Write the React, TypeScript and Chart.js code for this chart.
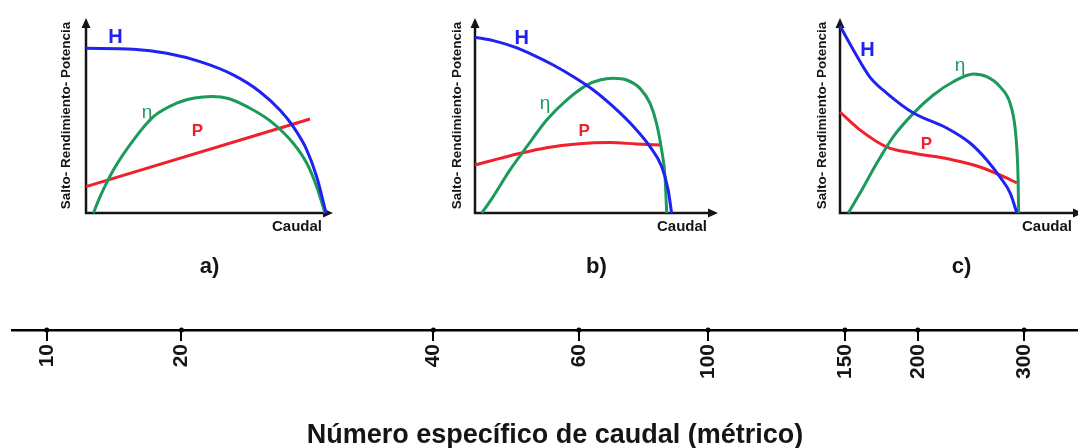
import React, { useEffect, useRef } from 'react';
import { Chart, registerables } from 'chart.js';

Chart.register(...registerables);

const FONT = "'Liberation Sans', Arial, Helvetica, sans-serif";
const BLUE = '#1f22f0';
const GREEN = '#1c9a5c';
const RED = '#f0202c';
const INK = '#151515';

// ---- characteristic curves (Caudal 0..100 along the axis, value 0..100 up the axis) ----

// a) slow runner
const aHx = [0, 19.2, 32.7, 46.2, 59.6, 70.4, 78.5, 83.9, 89.4, 93.4, 97.2];
const aHy = [84.5, 84, 81.9, 77.6, 70.8, 62.2, 52.8, 44.3, 32.3, 18.6, 0];
const aEx = [3.0, 5.7, 11.1, 19.2, 27.3, 36.7, 44.0, 51.0, 58.0, 67.7, 75.8, 83.9, 89.4, 93.4, 96.8];
const aEy = [0, 8.4, 22.1, 37.4, 49.4, 56.3, 59.0, 59.8, 58.6, 52.8, 46, 35.8, 25.5, 13.5, 0];
const aPx = [0, 90.7];
const aPy = [13.5, 48.2];

// b) medium runner
const bHx = [0, 7.5, 15.8, 24, 32.2, 40.5, 48.7, 56.9, 65.2, 72, 76.8, 79.5, 80.9];
const bHy = [90.1, 88.4, 85.3, 81, 75.9, 69.9, 63.1, 54.5, 44.3, 34, 23.8, 11.8, 0];
const bEx = [2.8, 7.5, 14.4, 21.3, 29.5, 37.7, 46, 51.4, 56.9, 62.4, 67.9, 72, 74.7, 76.8, 78.2, 78.9];
const bEy = [0, 8.4, 22.1, 34, 47.7, 57.9, 65.6, 68.2, 69.1, 68.2, 63.9, 56.3, 46, 32.3, 18.6, 0];
const bPx = [0, 10.3, 18.5, 29.5, 41.9, 55.6, 66.5, 76.8];
const bPy = [24.6, 28, 30.6, 33.5, 35.4, 36.1, 35.4, 34.9];

// c) fast runner
const cHx = [0, 5.5, 12.3, 19.2, 30.2, 43.9, 53.5, 60.4, 65.8, 70.0, 72.8];
const cHy = [95.9, 83.6, 69.7, 61.5, 51.3, 43.6, 35.9, 27.2, 18.5, 10.3, 0];
const cEx = [3.4, 8.2, 15.1, 21.9, 30.2, 38.4, 46.6, 54.9, 60.4, 65.8, 70, 72, 72.9, 73.3, 73.5];
const cEy = [0, 10.1, 25.5, 39.1, 51.1, 60.5, 67.3, 71.3, 69.9, 64.8, 56.3, 44.3, 30.6, 16.9, 0];
const cPx = [0, 8.2, 19.3, 30, 46.5, 57.6, 65.8, 72.8];
const cPy = [51.8, 42.6, 33.8, 30.8, 27.2, 23.6, 19.5, 15.4];

// ---- specific speed scale ----
const specificSpeedTicks = [10, 20, 40, 60, 100, 150, 200, 300];
// where each value sits along the scale, in percent of the axis length
const specificSpeedStops = [3.2, 15.6, 38.8, 52.2, 64.1, 76.7, 83.4, 93.2];

const toPoints = (xs: number[], ys: number[]) => xs.map((x, i) => ({ x, y: ys[i] }));

type CurveLabel = { text: string; color: string; x: number; y: number; font: string };

const panels = [
  {
    tag: 'a)', left: 0, width: 360, yAxisWidth: 86, padRight: 27, yTitleOffset: 58,
    H: [aHx, aHy], E: [aEx, aEy], P: [aPx, aPy],
    labels: [
      { text: 'H', color: BLUE, x: 11.9, y: 90, font: `bold 20px ${FONT}` },
      { text: 'η', color: GREEN, x: 24.7, y: 51.3, font: `19px ${FONT}` },
      { text: 'P', color: RED, x: 45.1, y: 41.8, font: `bold 17px ${FONT}` },
    ],
  },
  {
    tag: 'b)', left: 360, width: 360, yAxisWidth: 115, padRight: 2, yTitleOffset: 89,
    H: [bHx, bHy], E: [bEx, bEy], P: [bPx, bPy],
    labels: [
      { text: 'H', color: BLUE, x: 19.2, y: 89.5, font: `bold 20px ${FONT}` },
      { text: 'η', color: GREEN, x: 28.8, y: 55.9, font: `19px ${FONT}` },
      { text: 'P', color: RED, x: 44.9, y: 41.8, font: `bold 17px ${FONT}` },
    ],
  },
  {
    tag: 'c)', left: 720, width: 370, yAxisWidth: 120, padRight: 7, yTitleOffset: 94,
    H: [cHx, cHy], E: [cEx, cEy], P: [cPx, cPy],
    labels: [
      { text: 'H', color: BLUE, x: 11.3, y: 83.2, font: `bold 20px ${FONT}` },
      { text: 'η', color: GREEN, x: 49.4, y: 75.4, font: `19px ${FONT}` },
      { text: 'P', color: RED, x: 35.6, y: 35.1, font: `bold 17px ${FONT}` },
    ],
  },
];

// Axes with arrowheads, curve names and the "Caudal" axis name
const panelDecor = {
  id: 'panelDecor',
  beforeDatasetsDraw(chart: any) {
    const { ctx, chartArea } = chart;
    const { left, right, top, bottom } = chartArea;
    ctx.save();
    ctx.strokeStyle = INK;
    ctx.fillStyle = INK;
    ctx.lineWidth = 2.5;
    ctx.beginPath();
    ctx.moveTo(left, top + 6);
    ctx.lineTo(left, bottom);
    ctx.lineTo(right - 6, bottom);
    ctx.stroke();
    ctx.beginPath();
    ctx.moveTo(left, top);
    ctx.lineTo(left - 4.5, top + 10);
    ctx.lineTo(left + 4.5, top + 10);
    ctx.closePath();
    ctx.fill();
    ctx.beginPath();
    ctx.moveTo(right, bottom);
    ctx.lineTo(right - 10, bottom - 4.5);
    ctx.lineTo(right - 10, bottom + 4.5);
    ctx.closePath();
    ctx.fill();
    ctx.restore();
  },
  afterDatasetsDraw(chart: any, _args: any, opts: any) {
    const { ctx, chartArea, scales } = chart;
    ctx.save();
    ctx.textAlign = 'center';
    ctx.textBaseline = 'middle';
    (opts.labels || []).forEach((l: CurveLabel) => {
      ctx.font = l.font;
      ctx.fillStyle = l.color;
      ctx.fillText(l.text, scales.x.getPixelForValue(l.x), scales.y.getPixelForValue(l.y));
    });
    ctx.font = `bold 15px ${FONT}`;
    ctx.fillStyle = INK;
    ctx.textAlign = 'right';
    ctx.fillText(opts.axisName, chartArea.right - 11, chartArea.bottom + 14);
    ctx.restore();
  },
};

function CurvePanel({ panel }: { panel: any }) {
  const ref = useRef<HTMLCanvasElement>(null);
  useEffect(() => {
    if (!ref.current) return;
    const line = (label: string, xy: number[][], color: string) => ({
      label,
      data: toPoints(xy[0], xy[1]),
      borderColor: color,
      borderWidth: 3,
      pointRadius: 0,
      cubicInterpolationMode: 'monotone',
      fill: false,
      clip: false,
    });
    const chart = new Chart(ref.current, {
      type: 'line',
      data: {
        datasets: [
          line('H', panel.H, BLUE),
          line('η', panel.E, GREEN),
          line('P', panel.P, RED),
        ],
      },
      options: {
        animation: false,
        responsive: false,
        events: [],
        layout: { padding: { top: 18, right: panel.padRight, left: 0, bottom: 0 } },
        scales: {
          x: {
            type: 'linear', min: 0, max: 100,
            ticks: { display: false },
            grid: { display: false },
            border: { display: false },
            afterFit: (s: any) => { s.height = 40.6; },
          },
          y: {
            type: 'linear', min: 0, max: 100,
            ticks: { display: false },
            grid: { display: false },
            border: { display: false },
            title: {
              display: true,
              text: 'Salto- Rendimiento- Potencia',
              color: INK,
              font: { family: FONT, size: 13.5, weight: 'bold' },
              padding: { top: panel.yTitleOffset, bottom: 0 },
            },
            afterFit: (s: any) => { s.width = panel.yAxisWidth; },
          },
        },
        plugins: {
          legend: { display: false },
          tooltip: { enabled: false },
          title: {
            display: true,
            position: 'bottom',
            fullSize: false,
            text: panel.tag,
            color: INK,
            font: { family: FONT, size: 22, weight: 'bold' },
            padding: { top: 0, bottom: 20 },
          },
          panelDecor: { labels: panel.labels, axisName: 'Caudal' },
        } as any,
      },
      plugins: [panelDecor],
    } as any);
    return () => chart.destroy();
  }, [panel]);
  return (
    <div style={{ position: 'absolute', left: panel.left, top: 0, width: panel.width, height: 300 }}>
      <canvas ref={ref} width={panel.width} height={300} style={{ display: 'block' }} />
    </div>
  );
}

function SpecificSpeedAxis() {
  const ref = useRef<HTMLCanvasElement>(null);
  useEffect(() => {
    if (!ref.current) return;
    const chart = new Chart(ref.current, {
      type: 'scatter',
      data: {
        datasets: [{
          label: 'ns',
          data: specificSpeedStops.map((x) => ({ x, y: 0 })),
          pointRadius: 2.5,
          pointBackgroundColor: '#000',
          pointBorderWidth: 0,
          clip: false,
        }],
      },
      options: {
        animation: false,
        responsive: false,
        events: [],
        layout: { padding: { left: 12, right: 0, top: 10, bottom: 0 } },
        scales: {
          x: {
            type: 'linear', min: 0, max: 100,
            afterBuildTicks: (s: any) => { s.ticks = specificSpeedStops.map((v) => ({ value: v })); },
            ticks: {
              autoSkip: false,
              minRotation: 90,
              maxRotation: 90,
              padding: 3,
              color: INK,
              font: { family: FONT, size: 21, weight: 'bold' },
              callback: (_v: any, i: number) => String(specificSpeedTicks[i]),
            },
            grid: { display: true, drawOnChartArea: false, drawTicks: true, tickLength: 11, color: '#000', lineWidth: 2 },
            border: { display: true, color: '#000', width: 2.5 },
            title: {
              display: true,
              text: 'Número específico de caudal (métrico)',
              color: INK,
              font: { family: FONT, size: 27, weight: 'bold' },
              padding: { top: 0, bottom: 4 },
            },
            afterFit: (s: any) => { s.height = 126; },
          },
          y: { display: false, min: 0, max: 1 },
        },
        plugins: { legend: { display: false }, tooltip: { enabled: false } },
      },
    } as any);
    return () => chart.destroy();
  }, []);
  return (
    <div style={{ position: 'absolute', left: 0, top: 300, width: 1102, height: 156 }}>
      <canvas ref={ref} width={1102} height={156} style={{ display: 'block' }} />
    </div>
  );
}

export default function App() {
  return (
    <div style={{ position: 'absolute', left: 0, top: 0, width: 1078, height: 448, overflow: 'hidden', background: '#fff' }}>
      {panels.map((p) => <CurvePanel key={p.tag} panel={p} />)}
      <SpecificSpeedAxis />
    </div>
  );
}
